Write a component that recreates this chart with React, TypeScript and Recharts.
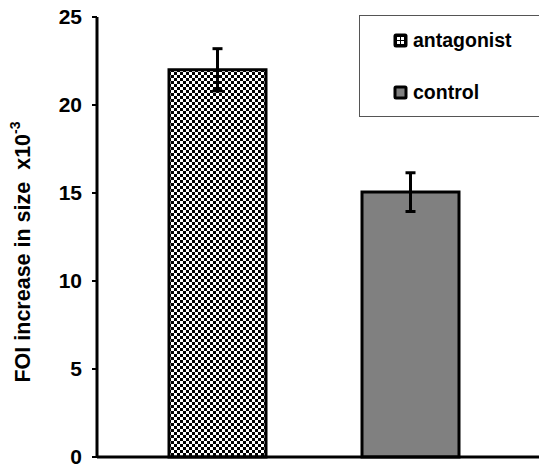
import React from "react";
import { BarChart, Bar, XAxis, YAxis, ErrorBar, Cell } from "recharts";

const groups = ["antagonist", "control"];
const means = [22, 15.05];
const errors = [1.2, 1.1];
const yTicks = [0, 5, 10, 15, 20, 25];

const fills = ["url(#checker)", "#808080"];
const FONT = "'Liberation Sans', Arial, sans-serif";

const data = groups.map((g, i) => ({ name: g, value: means[i], err: errors[i] }));

function YLabel(props: any) {
  const vb = props.viewBox || {};
  const cx = 23;
  const cy = vb.y + vb.height / 2 + 15;
  return (
    <text
      x={cx}
      y={cy}
      transform={`rotate(-90 ${cx} ${cy})`}
      textAnchor="middle"
      dominantBaseline="central"
      fontFamily={FONT}
      fontWeight="bold"
      fontSize={21.5}
      fill="#000"
    >
      FOI increase in size{"\u00a0\u00a0"}x10
      <tspan fontSize={14} dy={-8}>-3</tspan>
    </text>
  );
}

function LegendBox() {
  return (
    <div
      style={{
        position: "absolute",
        left: 359,
        top: 15,
        border: "1px solid #555",
        width: 190,
        height: 102,
        boxSizing: "border-box",
        fontFamily: FONT,
        fontWeight: "bold",
        fontSize: 19.5,
        color: "#000",
        padding: "11px 0 0 33px",
      }}
    >
      {groups.map((g, i) => (
        <div key={g} style={{ display: "flex", alignItems: "center", height: 26, marginBottom: i === 0 ? 26 : 0 }}>
          <svg width={15} height={15} style={{ marginRight: 5 }}>
            <rect x={0.5} y={0.5} width={14} height={14} rx={2.5} fill="#000" />
            {i === 0 ? (
              <g fill="#fff">
                <rect x={4} y={4} width={3} height={3} />
                <rect x={8} y={4} width={3} height={3} />
                <rect x={4} y={8} width={3} height={3} />
                <rect x={8} y={8} width={3} height={3} />
              </g>
            ) : (
              <rect x={3.5} y={3.5} width={8} height={8} fill="#808080" />
            )}
          </svg>
          <span>{g}</span>
        </div>
      ))}
    </div>
  );
}

export default function App() {
  return (
    <div style={{ position: "absolute", left: 0, top: 0, width: 539, height: 465, overflow: "hidden", background: "#fff" }}>
      <BarChart width={539} height={465} data={data} margin={{ top: 17, right: 0, bottom: 7, left: 0 }}>
        <defs>
          <pattern id="checker" width={6} height={6} patternUnits="userSpaceOnUse">
            <rect width={6} height={6} fill="#fff" />
            <rect x={0} y={0} width={3} height={3} fill="#000" />
            <rect x={3} y={3} width={3} height={3} fill="#000" />
          </pattern>
        </defs>
        <XAxis
          dataKey="name"
          tick={false}
          tickLine={false}
          height={1}
          padding={{ left: 24, right: 32 }}
          axisLine={{ stroke: "#000", strokeWidth: 3 }}
        />
        <YAxis
          domain={[0, 25]}
          ticks={yTicks}
          interval={0}
          width={97}
          tickSize={5}
          tickMargin={10}
          axisLine={{ stroke: "#000", strokeWidth: 3 }}
          tickLine={{ stroke: "#000", strokeWidth: 2 }}
          tick={{ fill: "#000", fontSize: 21, fontWeight: "bold", fontFamily: FONT }}
          label={<YLabel />}
        />
        <Bar dataKey="value" barSize={97} stroke="#000" strokeWidth={3} isAnimationActive={false}>
          {data.map((d, i) => (
            <Cell key={d.name} fill={fills[i]} />
          ))}
          <ErrorBar dataKey="err" width={5} stroke="#000" strokeWidth={3} />
        </Bar>
      </BarChart>
      <LegendBox />
    </div>
  );
}
